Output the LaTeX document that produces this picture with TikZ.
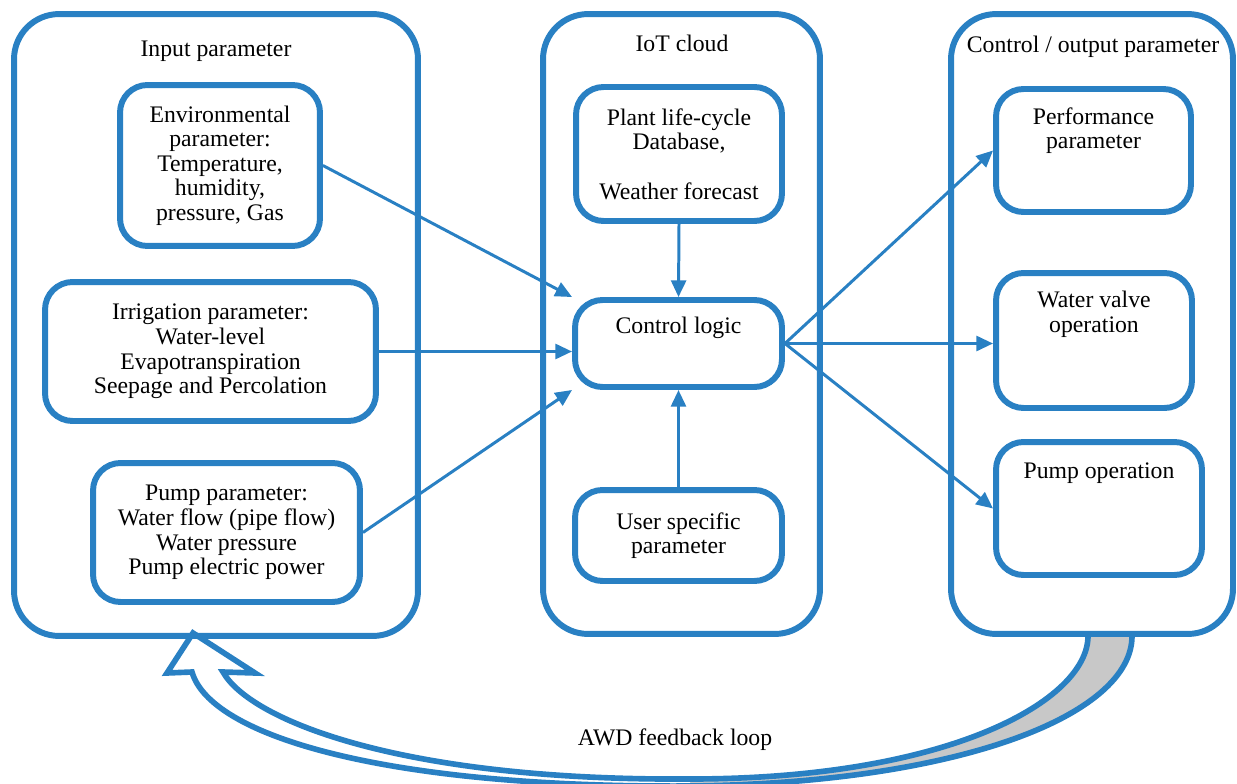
\documentclass[tikz,border=0pt]{standalone}
\usepackage{fontspec}
\setmainfont{Liberation Serif}
\usetikzlibrary{arrows.meta,positioning}
\definecolor{awdblue}{RGB}{41,128,195}
\definecolor{loopgray}{RGB}{200,200,200}
\tikzset{
	outerbox/.style={draw=awdblue, line width=3.4pt, rounded corners=0.9cm},
	innerbox/.style={draw=awdblue, line width=3.4pt, rounded corners=0.55cm, align=center},
	txt/.style={align=center, inner sep=0pt},
	flow/.style={draw=awdblue, line width=1.7pt, -{Triangle[length=9.5pt, width=8.5pt]}},
	loopline/.style={draw=awdblue, line width=3.2pt},
}

\begin{document}
\begin{tikzpicture}[x=0.02cm, y=-0.02cm, font=\fontsize{13.5}{14}\selectfont]
		%%%%% START %%%%%
		\useasboundingbox (0, 0) rectangle (1237, 784);
		
		% feedback loop: back side (gray), front side (white), then outline
		\fill[loopgray] (1088, 636) .. controls (1088, 700) and (950, 779) .. (690, 779) -- (690, 786) .. controls (960, 783) and (1132, 715) .. (1132, 636) -- cycle;
		\fill[white] (690, 779) .. controls (400, 781) and (250, 720) .. (223, 672) -- (255, 673) -- (193, 633) -- (167, 673) -- (192, 672) .. controls (210, 735) and (380, 788) .. (690, 786) -- cycle;
		\draw[loopline] (1132, 636) .. controls (1132, 715) and (960, 783) .. (690, 786) .. controls (380, 788) and (210, 735) .. (192, 672) -- (167, 673) -- (193, 633) -- (255, 673) -- (223, 672) .. controls (250, 720) and (400, 781) .. (690, 779) .. controls (950, 779) and (1088, 700) .. (1088, 636);
		\node (looplabel) at (675, 740) {AWD feedback loop};
		
		\node[outerbox, minimum width=8.08cm, minimum height=12.44cm] (inputbox) at (216, 325) {};
		\node[outerbox, minimum width=5.54cm, minimum height=12.4cm] (cloudbox) at (681.5, 324) {};
		\node[outerbox, minimum width=5.64cm, minimum height=12.4cm] (outputbox) at (1092, 324) {};
		
		\node[txt, anchor=base] (inputtitle) at (216, 57) {Input parameter};
		\node[txt, anchor=base] (cloudtitle) at (682, 52) {IoT cloud};
		\node[txt, anchor=base] (outputtitle) at (1093, 53) {Control / output parameter};
		
		\node[innerbox, minimum width=4cm, minimum height=3.22cm] (env) at (220, 165.5) {Environmental\\parameter:\\Temperature,\\humidity,\\pressure, Gas};
		\node[innerbox, minimum width=6.62cm, minimum height=2.78cm] (irrig) at (210.5, 351.5) {Irrigation parameter:\\Water-level\\Evapotranspiration\\Seepage and Percolation};
		\node[innerbox, minimum width=5.34cm, minimum height=2.78cm] (pumppar) at (226.5, 532.5) {Pump parameter:\\Water flow (pipe flow)\\Water pressure\\Pump electric power};
		
		\node[innerbox, minimum width=4.12cm, minimum height=2.68cm] (plant) at (679, 154) {Plant life-cycle\\Database,\\[14pt]Weather forecast};
		\node[innerbox, minimum width=4.14cm, minimum height=1.74cm] (ctrl) at (678.5, 343.5) {};
		\node[innerbox, minimum width=4.14cm, minimum height=1.82cm] (user) at (678.5, 535.5) {User specific\\parameter};
		
		\node[innerbox, minimum width=3.9cm, minimum height=2.46cm] (perf) at (1093.5, 150.5) {};
		\node[innerbox, minimum width=3.92cm, minimum height=2.7cm] (valve) at (1094, 340.5) {};
		\node[innerbox, minimum width=4.12cm, minimum height=2.66cm] (pumpop) at (1099, 508.5) {};
		
		\node[txt, below=0.4cm of ctrl.north] (ctrltext) {Control logic};
		\node[txt, below=0.42cm of perf.north] (perftext) {Performance\\parameter};
		\node[txt, below=0.42cm of valve.north] (valvetext) {Water valve\\operation};
		\node[txt, below=0.46cm of pumpop.north] (pumpoptext) {Pump operation};
		
		\draw[flow] (env.east) -- (ctrl.north west);
		\draw[flow] (irrig.east) -- (irrig.east -| ctrl.west);
		\draw[flow] (pumppar.east) -- (ctrl.south west);
		\draw[flow] (plant.south) -- (ctrl.north);
		\draw[flow] (user.north) -- (ctrl.south);
		
		\draw[flow] (ctrl.east) -- (perf.west);
		\draw[flow] (ctrl.east) -- (ctrl.east -| valve.west);
		\draw[flow] (ctrl.east) -- (pumpop.west);
		%%%%% END %%%%%
\end{tikzpicture}
\end{document}
